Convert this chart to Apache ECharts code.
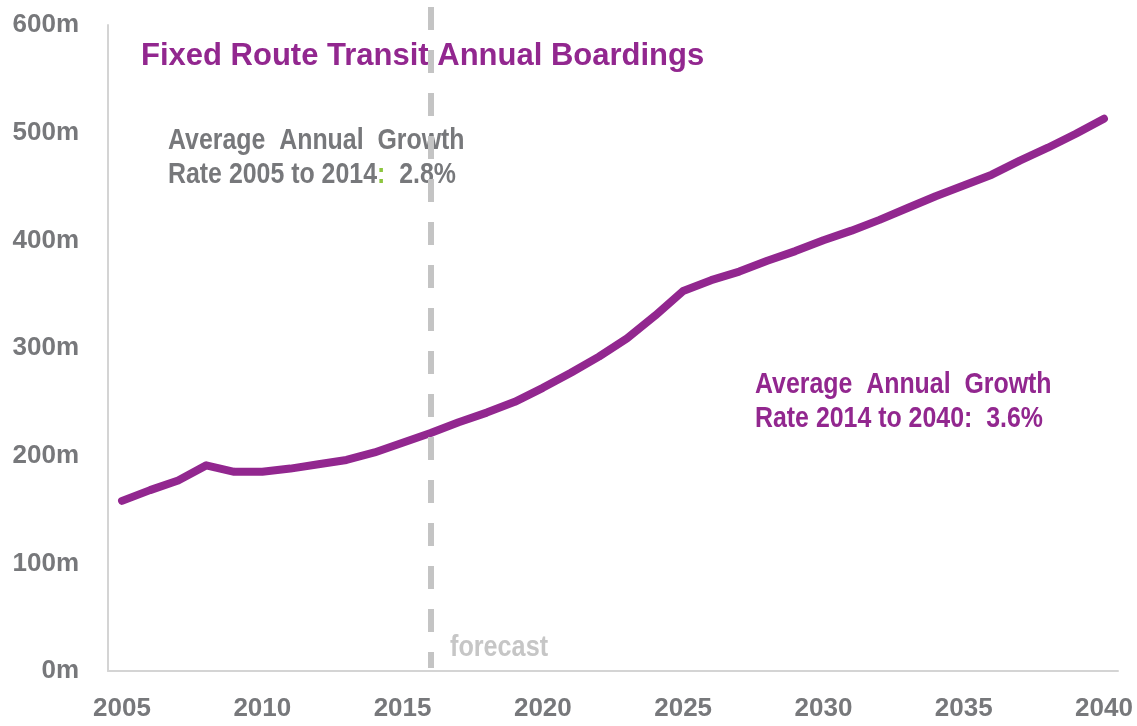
<!DOCTYPE html>
<html>
<head>
<meta charset="utf-8">
<title>Fixed Route Transit Annual Boardings</title>
<script src="https://cdn.jsdelivr.net/npm/echarts@6.0.0/dist/echarts.min.js"></script>
<style>
  html, body { margin: 0; padding: 0; background: #fff; }
  #chart { width: 1137px; height: 726px; }
</style>
</head>
<body>
<div id="chart"></div>
<script>
// 数据
var years = ['2005', '2006', '2007', '2008', '2009', '2010', '2011', '2012', '2013', '2014',
  '2015', '2016', '2017', '2018', '2019', '2020', '2021', '2022', '2023', '2024',
  '2025', '2026', '2027', '2028', '2029', '2030', '2031', '2032', '2033', '2034',
  '2035', '2036', '2037', '2038', '2039', '2040'];
// annual boardings, millions
var boardings = [158, 168, 177, 191, 185, 185, 188, 192, 196, 203,
  212, 221, 231, 240, 250, 263, 277, 292, 309, 330,
  353, 363, 371, 381, 390, 400, 409, 419, 430, 441,
  451, 461, 474, 486, 499, 513];
var forecastStart = '2016';

var purple = '#92278f';
var grey = '#77787b';
var font = "'Liberation Sans', Arial, sans-serif";

var chart = echarts.init(document.getElementById('chart'));
var option = {
  animation: false,
  title: {
    text: 'Fixed Route Transit Annual Boardings',
    left: 136,
    top: 36,
    z: 1,
    textStyle: { color: purple, fontFamily: font, fontWeight: 'bold', fontSize: 31 }
  },
  grid: { left: 108, right: 19, top: 25, bottom: 55, containLabel: false },
  xAxis: {
    type: 'category',
    data: years,
    boundaryGap: true,
    axisLine: { lineStyle: { color: '#d4d4d4', width: 2 } },
    axisTick: { interval: 4, length: 10, lineStyle: { color: '#d4d4d4', width: 2 } },
    axisLabel: {
      interval: 4,
      margin: 25,
      color: grey,
      fontFamily: font,
      fontWeight: 'bold',
      fontSize: 26
    },
    splitLine: { show: false }
  },
  yAxis: {
    type: 'value',
    min: 0,
    max: 600,
    interval: 100,
    axisLine: { show: true, lineStyle: { color: '#d4d4d4', width: 2 } },
    axisTick: { show: false },
    axisLabel: {
      formatter: '{value}m',
      margin: 29,
      color: grey,
      fontFamily: font,
      fontWeight: 'bold',
      fontSize: 26
    },
    splitLine: { show: false }
  },
  series: [{
    name: 'Boardings',
    type: 'line',
    data: boardings,
    symbol: 'none',
    lineStyle: { color: purple, width: 8, cap: 'round', join: 'round' },
    markLine: {
      silent: true,
      symbol: 'none',
      z: 10,
      label: { show: false },
      lineStyle: { color: '#c4c4c4', width: 6, type: [23, 20] },
      data: [[{ xAxis: forecastStart, y: 7 }, { xAxis: forecastStart, y: 668 }]]
    }
  }],
  graphic: [
    {
      type: 'text',
      left: 168,
      top: 124,
      z: 1,
      scaleX: 0.83,
      style: {
        text: 'Average  Annual  Growth\nRate 2005 to 2014{g|:}  2.8%',
        fill: grey,
        font: 'bold 30px ' + font,
        lineHeight: 34,
        rich: { g: { fill: '#8dc63f', font: 'bold 30px ' + font } }
      }
    },
    {
      type: 'text',
      left: 755,
      top: 368,
      z: 1,
      scaleX: 0.83,
      style: {
        text: 'Average  Annual  Growth\nRate 2014 to 2040:  3.6%',
        fill: purple,
        font: 'bold 30px ' + font,
        lineHeight: 34
      }
    },
    {
      type: 'text',
      left: 450,
      top: 633,
      z: 1,
      scaleX: 0.84,
      style: {
        text: 'forecast',
        fill: '#c6c6c6',
        font: 'bold 30px ' + font
      }
    }
  ]
};
chart.setOption(option);
</script>
</body>
</html>
